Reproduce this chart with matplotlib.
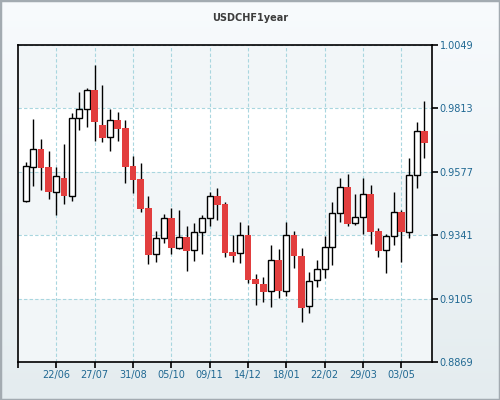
import numpy as np
import pandas as pd
import matplotlib
matplotlib.use("Agg")
import matplotlib.pyplot as plt
from matplotlib.colors import LinearSegmentedColormap
from matplotlib.patches import Rectangle

title = "USDCHF1year"
dates = pd.date_range("2012-05-25", periods=53, freq="W-FRI")
opens = [0.9467, 0.9596, 0.9661, 0.9594, 0.9503, 0.9554, 0.9488, 0.9776, 0.9810, 0.9882,
         0.9751, 0.9705, 0.9770, 0.9740, 0.9599, 0.9550, 0.9442, 0.9270, 0.9329, 0.9405,
         0.9294, 0.9334, 0.9285, 0.9352, 0.9404, 0.9487, 0.9457, 0.9279, 0.9276, 0.9341,
         0.9178, 0.9159, 0.9132, 0.9249, 0.9134, 0.9341, 0.9264, 0.9079, 0.9173, 0.9214,
         0.9296, 0.9423, 0.9519, 0.9385, 0.9408, 0.9494, 0.9357, 0.9285, 0.9337, 0.9427,
         0.9354, 0.9564, 0.9729]
highs = [0.9615, 0.9772, 0.9698, 0.9654, 0.9594, 0.9679, 0.9795, 0.9873, 0.9889, 0.9976,
         0.9899, 0.9810, 0.9800, 0.9770, 0.9635, 0.9609, 0.9486, 0.9357, 0.9420, 0.9441,
         0.9434, 0.9375, 0.9385, 0.9416, 0.9501, 0.9516, 0.9464, 0.9341, 0.9389, 0.9378,
         0.9195, 0.9184, 0.9303, 0.9290, 0.9389, 0.9357, 0.9292, 0.9203, 0.9248, 0.9337,
         0.9464, 0.9553, 0.9568, 0.9493, 0.9553, 0.9527, 0.9367, 0.9344, 0.9501, 0.9436,
         0.9627, 0.9761, 0.9841]
lows = [0.9465, 0.9524, 0.9510, 0.9477, 0.9416, 0.9458, 0.9469, 0.9734, 0.9745, 0.9693,
        0.9689, 0.9656, 0.9693, 0.9536, 0.9498, 0.9429, 0.9235, 0.9242, 0.9313, 0.9272,
        0.9290, 0.9209, 0.9246, 0.9272, 0.9376, 0.9399, 0.9261, 0.9241, 0.9239, 0.9164,
        0.9082, 0.9094, 0.9075, 0.9106, 0.9115, 0.9220, 0.9019, 0.9053, 0.9147, 0.9181,
        0.9231, 0.9391, 0.9376, 0.9380, 0.9347, 0.9309, 0.9261, 0.9201, 0.9306, 0.9242,
        0.9332, 0.9518, 0.9629]
closes = [0.9598, 0.9661, 0.9592, 0.9503, 0.9560, 0.9488, 0.9776, 0.9810, 0.9880, 0.9764,
          0.9704, 0.9769, 0.9737, 0.9596, 0.9548, 0.9440, 0.9268, 0.9329, 0.9404, 0.9294,
          0.9333, 0.9283, 0.9352, 0.9404, 0.9486, 0.9455, 0.9276, 0.9265, 0.9341, 0.9175,
          0.9160, 0.9131, 0.9248, 0.9134, 0.9341, 0.9265, 0.9071, 0.9169, 0.9214, 0.9296,
          0.9423, 0.9519, 0.9384, 0.9408, 0.9493, 0.9354, 0.9283, 0.9337, 0.9426, 0.9354,
          0.9564, 0.9728, 0.9685]
y_ticks = [0.8869, 0.9105, 0.9341, 0.9577, 0.9813, 1.0049]
x_tick_every = 5
x_tick_first = 4

UP_FACE = "white"
DOWN_FACE = "#e23e3e"
LABEL_COLOR = "#1f6892"
GRID_COLOR = "#a9d6df"

fig = plt.figure(figsize=(5, 4), dpi=100)

# background gradient
bg = fig.add_axes([0, 0, 1, 1], zorder=-10)
grad = np.linspace(0, 1, 256).reshape(-1, 1)
cmap = LinearSegmentedColormap.from_list("bgc", ["#f8fbfd", "#e4ecef"])
bg.imshow(grad, aspect="auto", cmap=cmap, extent=[0, 1, 0, 1], origin="upper")
bg.axis("off")
fig.patches.append(Rectangle((0, 0), 1, 1, transform=fig.transFigure, fill=False,
                             edgecolor="#a3abb1", linewidth=2.5))

fig.text(0.5, 1 - 18 / 400, title, ha="center", va="center", fontsize=7,
         fontweight="bold", color="#3c3c3c")

ax = fig.add_axes([18 / 500, 38 / 400, 414 / 500, 317 / 400])
ax.set_facecolor("white")

x = np.arange(len(dates))
o = np.array(opens); h = np.array(highs); l = np.array(lows); c = np.array(closes)
up = c >= o

# bands
for i in range(len(y_ticks) - 1):
    if i % 2 == 0:
        ax.axhspan(y_ticks[i], y_ticks[i + 1], color="#f2f6f8", zorder=0, lw=0)

ax.vlines(x, l, h, color="black", linewidth=1.0, zorder=3)
bw = 0.84
ax.bar(x[up], (c - o)[up], bottom=o[up], width=bw - 0.08, color=UP_FACE,
       edgecolor="black", linewidth=1.0, zorder=4)
ax.bar(x[~up], (o - c)[~up], bottom=c[~up], width=bw, color=DOWN_FACE,
       edgecolor="none", linewidth=0, zorder=4)

ax.set_xlim(-1, 53)
ax.set_ylim(y_ticks[0], y_ticks[-1])

xt = list(range(x_tick_first, len(dates), x_tick_every))
ax.set_xticks(xt)
ax.set_xticklabels([dates[i].strftime("%d/%m") for i in xt])
ax.set_xticks([-1], minor=True)
ax.set_yticks(y_ticks)
ax.set_yticklabels(["%.4f" % v for v in y_ticks])
ax.yaxis.tick_right()

ax.tick_params(axis="both", which="both", direction="out", length=4, width=1.2,
               labelsize=7, labelcolor=LABEL_COLOR, color="black", pad=2)
ax.tick_params(axis="y", pad=1.5)

ax.grid(True, color=GRID_COLOR, linestyle=(0, (3, 2)), linewidth=0.8, zorder=1)
ax.set_axisbelow(True)
for s in ax.spines.values():
    s.set_linewidth(1.2)
    s.set_color("black")

fig.savefig("out.png", dpi=100)
